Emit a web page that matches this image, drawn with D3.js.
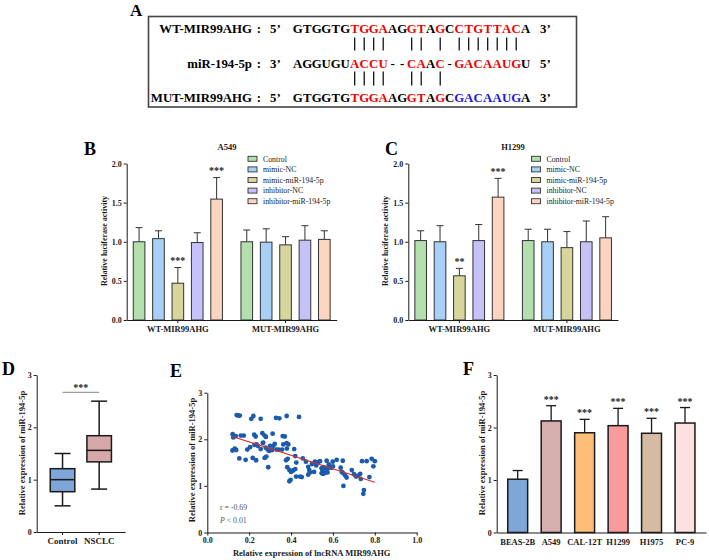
<!DOCTYPE html>
<html><head><meta charset="utf-8">
<script src="https://cdn.jsdelivr.net/npm/d3@7"></script>
<style>body{margin:0;background:#fff} text{font-family:"Liberation Serif","Times New Roman",serif}</style>
</head><body><svg id="c" width="709" height="560"></svg>
<script>
// ---------------- DATA ----------------
// Panel A: sequences (25 aligned columns)
const wtSeq  = "GTGGTGTGGAAGGTAGCCTGTTACA";
const mirSeq = "AGGUGUACCU--CAAC-GACAAUGU";
const mutSeq = "GTGGTGTGGAAGGTAGCGACAAUGA";
// highlight class per column: k = plain, r = seed match, b = mutated
const wtMark  = "kkkkkkrrrrkkrrkrkrrrrrrrk";
const mirMark = "kkkkkkrrrrkkrrkrkrrrrrrrk";
const mutMark = "kkkkkkrrrrkkrrkrkbbbbbbbk";
const pairsWT  = [7,8,9,10,13,14,16,18,19,20,21,22,23,24];
const pairsMUT = [7,8,9,10,13,14,16];

// Panels B, C: luciferase
const groupsBC = ["WT-MIR99AHG","MUT-MIR99AHG"];
const seriesBC = ["Control","mimic-NC","mimic-miR-194-5p","inhibitor-NC","inhibitor-miR-194-5p"];
const a549Mean = [[1.00,1.04,0.47,0.99,1.545],[1.00,0.995,0.96,1.02,1.03]];
const a549Sd   = [[0.18,0.10,0.20,0.125,0.275],[0.15,0.17,0.105,0.185,0.11]];
const a549Sig  = [["","","***","","***"],["","","","",""]];
const h1299Mean = [[1.015,1.00,0.565,1.015,1.57],[1.015,1.00,0.925,1.00,1.05]];
const h1299Sd   = [[0.125,0.205,0.095,0.205,0.24],[0.145,0.16,0.205,0.265,0.27]];
const h1299Sig  = [["","","**","","***"],["","","","",""]];
const bcTicks = [0,0.5,1,1.5,2];

// Panel D: box plot
const boxCats = ["Control","NSCLC"];
const boxMin = [0.50,0.82];
const boxQ1  = [0.77,1.34];
const boxMed = [1.00,1.56];
const boxQ3  = [1.21,1.84];
const boxMax = [1.50,2.50];

// Panel E: scatter
const scX = [0.14,0.148,0.155,0.21,0.22,0.255,0.328,0.344,0.379,0.438,
 0.121,0.124,0.136,0.16,0.174,0.12,0.131,0.138,0.153,0.183,0.191,0.204,0.217,0.233,0.224,0.231,0.241,0.263,0.267,0.274,
 0.28,0.279,0.288,0.295,0.303,0.31,0.274,0.282,0.291,0.312,0.322,0.316,0.34,0.36,0.363,0.379,0.387,0.38,0.357,0.376,
 0.384,0.382,0.392,0.398,0.392,0.40,0.41,0.42,0.424,0.443,0.415,0.42,0.425,0.37,0.255,0.265,0.225,0.235,0.30,0.33,
 0.456,0.471,0.482,0.487,0.49,0.482,0.451,0.514,0.522,0.53,0.538,0.546,0.554,0.562,0.57,0.578,0.586,0.594,0.546,0.554,
 0.562,0.574,0.57,0.599,0.618,0.647,0.637,0.647,0.658,0.642,0.65,0.69,0.70,0.71,0.72,0.73,0.733,0.739,0.761,0.785,
 0.80,0.793,0.748,0.745,0.774,0.52,0.55,0.58,0.50,0.60,0.665,0.51];
const scY = [2.52,2.51,2.51,2.44,2.50,2.44,2.46,2.45,2.50,2.48,
 2.11,2.04,2.07,2.08,2.08,1.76,1.80,1.77,1.59,1.56,1.78,1.83,1.60,1.55,2.10,2.06,1.86,2.13,1.93,2.08,
 2.05,1.82,1.78,1.75,1.77,1.77,1.60,1.63,1.40,2.12,1.90,1.86,1.78,2.07,1.89,1.92,1.89,1.80,1.78,1.55,
 1.58,1.40,1.34,1.13,1.10,1.30,1.33,1.36,1.20,1.20,1.79,1.64,1.50,2.06,1.79,1.92,1.88,1.89,1.86,1.78,
 1.59,1.52,1.41,1.34,1.29,1.24,1.19,1.52,1.50,1.51,1.53,1.38,1.40,1.39,1.37,1.38,1.40,1.39,1.27,1.26,
 1.28,1.29,1.54,1.52,1.56,1.54,1.39,1.28,1.23,1.30,1.00,1.34,1.25,1.20,1.22,1.26,1.15,1.53,1.53,1.58,
 1.53,1.42,0.91,0.83,1.19,1.44,1.33,1.46,1.47,1.42,1.18,1.30];
const fitX = [0.12,0.80];
const fitY = [2.06,1.08];

// Panel F: cell lines
const cellLines = ["BEAS-2B","A549","CAL-12T","H1299","H1975","PC-9"];
const cellMean = [1.015,2.125,1.90,2.035,1.89,2.085];
const cellSd   = [0.165,0.29,0.255,0.33,0.285,0.295];
const cellSig  = ["","***","***","***","***","***"];

// ---------------- STYLE ----------------
const bcColors = ["#b3dfae","#a8cff5","#d6d69c","#c6c2f7","#fdd4c0"];
const boxColors = ["#7ea6d8","#d6a8a8"];
const cellColors = ["#7ea6d8","#d6aeae","#fdbe7a","#f99a9c","#d6bba3","#fde0e0"];
const markColor = {k:"#000", r:"#f00000", b:"#1a1ae6"};
const ink = "#1a1a1a";

const svg = d3.select("#c");
svg.append("rect").attr("width",709).attr("height",560).attr("fill","#fff");

function letter(t,x,y,size){
  svg.append("text").attr("x",x).attr("y",y).attr("font-size",size||18)
    .attr("font-weight","bold").attr("fill","#000").text(t);
}
function styleAxis(g,fs){
  g.selectAll(".domain").attr("stroke",ink).attr("stroke-width",1);
  g.selectAll(".tick line").attr("stroke",ink).attr("stroke-width",1);
  g.selectAll(".tick text").attr("font-family","Liberation Serif").attr("font-weight","bold")
    .attr("font-size",fs||8).attr("fill",ink);
}
function yLabel(t,x,cy,fs){
  svg.append("text").attr("transform",`translate(${x},${cy}) rotate(-90)`)
    .attr("text-anchor","middle").attr("font-size",fs).attr("font-weight","bold").attr("fill",ink).text(t);
}

// ---------------- PANEL A ----------------
letter("A",130,16,17);
svg.append("rect").attr("x",148.5).attr("y",16.5).attr("width",428).attr("height",90.5)
  .attr("fill","none").attr("stroke","#444").attr("stroke-width",1.6);
const colX = d3.scalePoint().domain(d3.range(1,26)).range([297.7,525.7]);
const rowsA = [
  {lab:"WT-MIR99AHG", l:"5’", r:"3’", seq:wtSeq, mark:wtMark, y:33},
  {lab:"miR-194-5p", l:"3’", r:"5’", seq:mirSeq, mark:mirMark, y:67.5},
  {lab:"MUT-MIR99AHG", l:"5’", r:"3’", seq:mutSeq, mark:mutMark, y:101.5}
];
rowsA.forEach(row=>{
  const fs = 12.8;
  svg.append("text").attr("x",252).attr("y",row.y).attr("text-anchor","end").attr("font-size",fs)
    .attr("font-weight","bold").text(row.lab);
  svg.append("text").attr("x",259).attr("y",row.y).attr("text-anchor","middle").attr("font-size",fs)
    .attr("font-weight","bold").text(":");
  svg.append("text").attr("x",270).attr("y",row.y).attr("font-size",fs).attr("font-weight","bold").text(row.l);
  svg.append("text").attr("x",540).attr("y",row.y).attr("font-size",fs).attr("font-weight","bold").text(row.r);
  row.seq.split("").forEach((ch,i)=>{
    svg.append("text").attr("x",colX(i+1)).attr("y",row.y).attr("text-anchor","middle")
      .attr("font-size",fs).attr("font-weight","bold").attr("fill",markColor[row.mark[i]]).text(ch);
  });
});
pairsWT.forEach(c=>{
  svg.append("line").attr("x1",colX(c)).attr("x2",colX(c)).attr("y1",37.5).attr("y2",50.5)
    .attr("stroke","#000").attr("stroke-width",1.2);
});
pairsMUT.forEach(c=>{
  svg.append("line").attr("x1",colX(c)).attr("x2",colX(c)).attr("y1",71.5).attr("y2",85.5)
    .attr("stroke","#000").attr("stroke-width",1.2);
});

// ---------------- PANELS B, C ----------------
function barPanel(cfg){
  const y = d3.scaleLinear().domain([0,2]).range([320,163.5]);
  const gx = d3.scaleBand().domain(groupsBC).range([cfg.x0,cfg.x1]).paddingInner(0.1).paddingOuter(0.025);
  const sx = d3.scaleBand().domain(seriesBC).range([0,gx.bandwidth()]).paddingInner(0.4).paddingOuter(0.2);
  const g = svg.append("g");
  groupsBC.forEach((grp,gi)=>{
    seriesBC.forEach((s,si)=>{
      const v = cfg.mean[gi][si], e = cfg.sd[gi][si];
      const bx = gx(grp)+sx(s), bw = sx.bandwidth(), cx = bx+bw/2;
      g.append("line").attr("x1",cx).attr("x2",cx).attr("y1",y(v)).attr("y2",y(v+e))
        .attr("stroke","#333").attr("stroke-width",1);
      g.append("line").attr("x1",cx-3.5).attr("x2",cx+3.5).attr("y1",y(v+e)).attr("y2",y(v+e))
        .attr("stroke","#333").attr("stroke-width",1);
      g.append("rect").attr("x",bx).attr("y",y(v)).attr("width",bw).attr("height",y(0)-y(v))
        .attr("fill",bcColors[si]).attr("stroke","#333").attr("stroke-width",1);
      if(cfg.sig[gi][si]){
        g.append("text").attr("x",cx).attr("y",y(v+e)-3.5).attr("text-anchor","middle")
          .attr("font-size",10).attr("font-weight","bold").attr("fill",ink).text(cfg.sig[gi][si]);
      }
    });
  });
  const ax = svg.append("g").attr("transform",`translate(${cfg.x0},0)`)
    .call(d3.axisLeft(y).tickValues(bcTicks).tickFormat(d3.format(".1f")).tickSize(3).tickPadding(2).tickSizeOuter(0));
  styleAxis(ax,8);
  const bx = svg.append("g").attr("transform",`translate(0,${y(0)})`)
    .call(d3.axisBottom(gx).tickSize(3).tickPadding(3).tickSizeOuter(0));
  styleAxis(bx,8.5);
  svg.append("text").attr("x",cfg.titleX).attr("y",150).attr("text-anchor","middle")
    .attr("font-size",8.5).attr("font-weight","bold").attr("fill",ink).text(cfg.title);
  yLabel("Relative luciferase activity",cfg.ylabX,241,8);
  seriesBC.forEach((s,i)=>{
    const cy = 158.8 + i*10.6;
    svg.append("rect").attr("x",cfg.legX).attr("y",cy-2.5).attr("width",9).attr("height",5)
      .attr("fill",bcColors[i]).attr("stroke","#333").attr("stroke-width",0.9);
    svg.append("text").attr("x",cfg.legX+15).attr("y",cy+2.7).attr("font-size",7.8).attr("fill",ink).text(s);
  });
  letter(cfg.letter,cfg.letterX,155,18);
}
barPanel({x0:126.7,x1:336.7,title:"A549",titleX:227,mean:a549Mean,sd:a549Sd,sig:a549Sig,
  ylabX:106.5,legX:248,letter:"B",letterX:84});
barPanel({x0:408.3,x1:618,title:"H1299",titleX:513,mean:h1299Mean,sd:h1299Sd,sig:h1299Sig,
  ylabX:388,legX:531.5,letter:"C",letterX:385});

// ---------------- PANEL D ----------------
(function(){
  const y = d3.scaleLinear().domain([0,3]).range([532,375]);
  const x = d3.scaleBand().domain(boxCats).range([36.7,125]).paddingInner(0.33).paddingOuter(0.37);
  boxCats.forEach((c,i)=>{
    const cx = x(c)+x.bandwidth()/2, bw = x.bandwidth();
    svg.append("line").attr("x1",cx).attr("x2",cx).attr("y1",y(boxMin[i])).attr("y2",y(boxMax[i]))
      .attr("stroke",ink).attr("stroke-width",1.5);
    [boxMin[i],boxMax[i]].forEach(v=>{
      svg.append("line").attr("x1",cx-8).attr("x2",cx+8).attr("y1",y(v)).attr("y2",y(v))
        .attr("stroke",ink).attr("stroke-width",1.5);
    });
    svg.append("rect").attr("x",x(c)).attr("y",y(boxQ3[i])).attr("width",bw).attr("height",y(boxQ1[i])-y(boxQ3[i]))
      .attr("fill",boxColors[i]).attr("stroke",ink).attr("stroke-width",1.5);
    svg.append("line").attr("x1",x(c)).attr("x2",x(c)+bw).attr("y1",y(boxMed[i])).attr("y2",y(boxMed[i]))
      .attr("stroke",ink).attr("stroke-width",1.5);
  });
  const c0 = x(boxCats[0])+x.bandwidth()/2, c1 = x(boxCats[1])+x.bandwidth()/2;
  svg.append("line").attr("x1",c0).attr("x2",c1).attr("y1",392.3).attr("y2",392.3).attr("stroke","#666").attr("stroke-width",0.8);
  svg.append("text").attr("x",(c0+c1)/2).attr("y",391).attr("text-anchor","middle").attr("font-size",10)
    .attr("font-weight","bold").attr("fill",ink).text("***");
  const ay = svg.append("g").attr("transform","translate(36.7,0)")
    .call(d3.axisLeft(y).tickValues([0,1,2,3]).tickFormat(d3.format("d")).tickSize(3).tickPadding(2).tickSizeOuter(0));
  styleAxis(ay,8);
  const axb = svg.append("g").attr("transform",`translate(0,${y(0)})`)
    .call(d3.axisBottom(x).tickSize(3).tickPadding(3).tickSizeOuter(0));
  styleAxis(axb,9);
  yLabel("Relative expression of miR-194-5p",24.7,453,8.5);
  letter("D",2,375,18);
})();

// ---------------- PANEL E ----------------
(function(){
  const x = d3.scaleLinear().domain([0,1]).range([207.3,416.7]);
  const y = d3.scaleLinear().domain([0,3]).range([532.5,392.7]);
  const ax = svg.append("g").attr("transform",`translate(0,${y(0)})`)
    .call(d3.axisBottom(x).tickValues([0,0.2,0.4,0.6,0.8,1]).tickFormat(d3.format(".1f")).tickSize(3).tickPadding(2).tickSizeOuter(0));
  styleAxis(ax,8);
  const ay = svg.append("g").attr("transform",`translate(${x(0)},0)`)
    .call(d3.axisLeft(y).tickValues([0,1,2,3]).tickFormat(d3.format("d")).tickSize(3).tickPadding(2).tickSizeOuter(0));
  styleAxis(ay,8);
  svg.append("g").selectAll("circle").data(scX.map((v,i)=>[v,scY[i]])).join("circle")
    .attr("cx",d=>x(d[0])).attr("cy",d=>y(d[1])).attr("r",2.4).attr("fill","#1b5bab");
  svg.append("line").attr("x1",x(fitX[0])).attr("y1",y(fitY[0])).attr("x2",x(fitX[1])).attr("y2",y(fitY[1]))
    .attr("stroke","#d43030").attr("stroke-width",1.1);
  svg.append("text").attr("x",220).attr("y",510).attr("font-size",7.8).attr("fill","#555").text("r = -0.69");
  const pt = svg.append("text").attr("x",220).attr("y",522.5).attr("font-size",7.8).attr("fill","#555");
  pt.append("tspan").attr("font-style","italic").text("P");
  pt.append("tspan").text(" < 0.01");
  svg.append("text").attr("x",311.7).attr("y",556).attr("text-anchor","middle").attr("font-size",8.5)
    .attr("font-weight","bold").attr("fill",ink).text("Relative expression of lncRNA MIR99AHG");
  yLabel("Relative expression of miR-194-5p",194.7,460,8.5);
  letter("E",170,377,18);
})();

// ---------------- PANEL F ----------------
(function(){
  const y = d3.scaleLinear().domain([0,3]).range([532.5,375]);
  const x = d3.scaleBand().domain(cellLines).range([496.7,706]).paddingInner(0.405).paddingOuter(0.33);
  cellLines.forEach((c,i)=>{
    const v = cellMean[i], e = cellSd[i], bx = x(c), bw = x.bandwidth(), cx = bx+bw/2;
    svg.append("line").attr("x1",cx).attr("x2",cx).attr("y1",y(v)).attr("y2",y(v+e)).attr("stroke",ink).attr("stroke-width",1.3);
    svg.append("line").attr("x1",cx-5).attr("x2",cx+5).attr("y1",y(v+e)).attr("y2",y(v+e)).attr("stroke",ink).attr("stroke-width",1.3);
    svg.append("rect").attr("x",bx).attr("y",y(v)).attr("width",bw).attr("height",y(0)-y(v))
      .attr("fill",cellColors[i]).attr("stroke",ink).attr("stroke-width",1.5);
    if(cellSig[i]) svg.append("text").attr("x",cx).attr("y",y(v+e)-3).attr("text-anchor","middle")
      .attr("font-size",10).attr("font-weight","bold").attr("fill",ink).text(cellSig[i]);
  });
  const ay = svg.append("g").attr("transform","translate(496.7,0)")
    .call(d3.axisLeft(y).tickValues([0,1,2,3]).tickFormat(d3.format("d")).tickSize(3).tickPadding(2).tickSizeOuter(0));
  styleAxis(ay,8);
  const axb = svg.append("g").attr("transform",`translate(0,${y(0)})`)
    .call(d3.axisBottom(x).tickSize(0).tickPadding(6).tickSizeOuter(0));
  styleAxis(axb,8.5);
  yLabel("Relative expression of miR-194-5p",484.5,453,8.5);
  letter("F",463,375,18);
})();
</script></body></html>
